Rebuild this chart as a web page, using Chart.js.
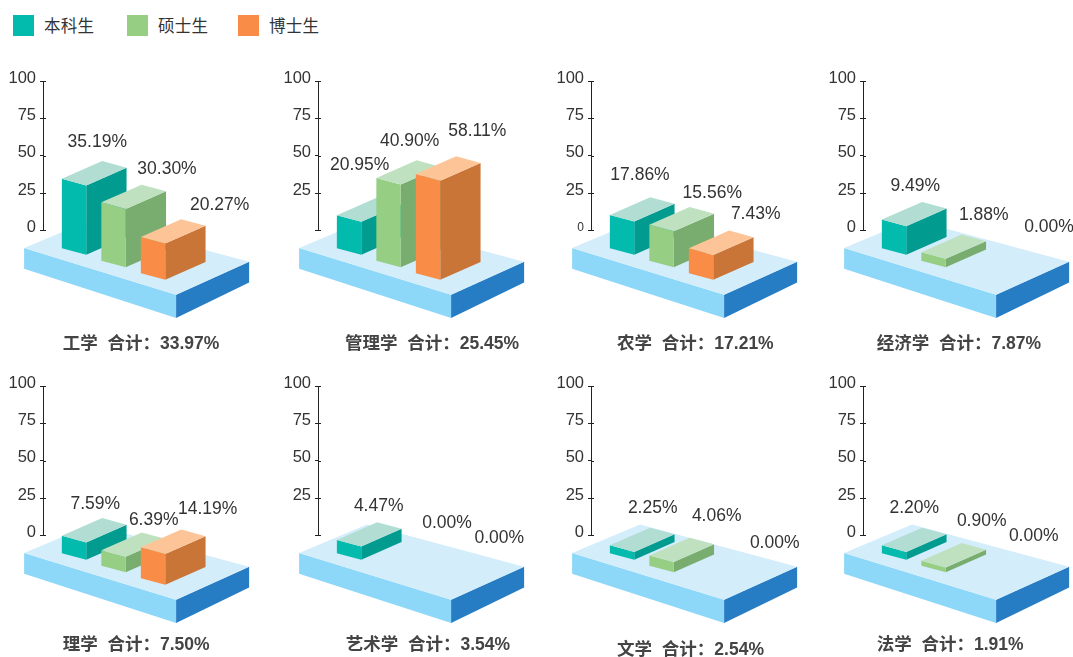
<!DOCTYPE html>
<html lang="zh">
<head>
<meta charset="utf-8">
<title>各学科在校生占比</title>
<script src="https://cdn.jsdelivr.net/npm/chart.js@4"></script>
<style>
  html, body { margin: 0; width: 1073px; height: 657px; overflow: hidden; background: #fff; }
  canvas { position: absolute; }
  .key { position: absolute; top: 15px; height: 21px; line-height: 21px; color: #333;
         font: 16.5px/21px "Noto Sans CJK SC", sans-serif; white-space: nowrap; }
  .key i { position: absolute; left: 0; top: 0; width: 21px; height: 21px; }
  .key span { margin-left: 31px; letter-spacing: 0.3px; }
</style>
</head>
<body>
<script>
// Data
const categories = ['工学', '管理学', '农学', '经济学', '理学', '艺术学', '文学', '法学'];
const totals = ['33.97', '25.45', '17.21', '7.87', '7.50', '3.54', '2.54', '1.91'];
const seriesNames = ['本科生', '硕士生', '博士生'];
const tickValues = [0, 25, 50, 75, 100];

// printed percentages
const bachelorShare = ['35.19', '20.95', '17.86', '9.49', '7.59', '4.47', '2.25', '2.20'];
const masterShare = ['30.30', '40.90', '15.56', '1.88', '6.39', '0.00', '4.06', '0.90'];
const doctorShare = ['20.27', '58.11', '7.43', '0.00', '14.19', '0.00', '0.00', '0.00'];

// box heights as measured against the 0-100 axis (the picture does not draw them to the printed %)
const bachelorHeight = [46.8, 22.4, 22.6, 19.5, 12, 9.2, 5.6, 5.6];
const masterHeight = [39.4, 55.7, 24.4, 6, 10.7, 0, 7.2, 3.6];
const doctorHeight = [24.6, 66.7, 17, 0, 21, 0, 0, 0];

// Colours
const frontColors = ['#02BBAC', '#96CE84', '#F98D48'];
const sideColors = ['#029B90', '#79AD6F', '#C97538'];
const topColors = ['#B1DDD3', '#BFE1BF', '#FDC597'];
const floorTop = '#D4EDFB';
const floorLeft = '#8DD7F8';
const floorRight = '#277DC4';
const inkColor = '#333333';

// Layout, all relative to the axis foot of a panel
const axisLefts = [43, 318, 591, 863];
const rowTops = [61, 366];
const legendLefts = [13, 127, 238];
const BOX = { width: 24.4, skew: 6.6, depthX: 40.3, depthY: 17.7, shiftX: 11.3, drop: 15.1, slope: 0.316 };
const FLOOR = { left: [-18.9, 17.7], front: [133.1, 64.3], right: [206.1, 31.3], back: [49.1, -11], thick: 20.7, frontThick: 23.3 };
const noZeroLabel = [1, 5];
const smallZeroLabel = [2];
const titleSpots = [[19.7, 114], [27, 113.5], [26.1, 113.5], [13.7, 113.5], [19.7, 110], [27.7, 110], [26.1, 115], [13.7, 110]];
const labelSpots = [
  [[54.3, -88], [124, -61], [176.6, -25.7]],
  [[41.7, -65], [91.7, -89], [159.3, -99]],
  [[49, -55], [121.3, -37.4], [164.7, -16]],
  [[52.3, -44], [120.7, -15.7], [186, -3]],
  [[52.3, -31], [110.7, -15.4], [164.7, -26.7]],
  [[60.7, -29.7], [129, -12.4], [181.3, 3]],
  [[61.7, -27], [125.7, -19.4], [183.7, 8]],
  [[51.3, -27], [118.7, -14], [170.7, 0.6]],
];

function fillPoly(ctx, color, points) {
  ctx.fillStyle = color;
  ctx.beginPath();
  points.forEach((p, i) => (i ? ctx.lineTo(p[0], p[1]) : ctx.moveTo(p[0], p[1])));
  ctx.closePath();
  ctx.fill();
}

// A bar element that draws itself as a box standing on the floor
class Box3DElement extends Chart.BarElement {
  draw(ctx) {
    const height = this.base - this.y;
    if (height <= 0) return;
    const shade = frontColors.indexOf(this.options.backgroundColor);
    const originX = this.$originX;
    const cx = this.x + BOX.shiftX;
    const right = cx + this.width / 2;
    const left = cx - this.width / 2;
    const foot = this.base + BOX.drop + BOX.slope * (cx - originX);
    const head = foot - height;
    const dx = BOX.depthX, dy = BOX.depthY, sk = BOX.skew;
    ctx.save();
    fillPoly(ctx, sideColors[shade], [[right, head], [right + dx, head - dy], [right + dx, foot - dy], [right, foot]]);
    fillPoly(ctx, this.options.backgroundColor, [[left, head - sk], [right, head], [right, foot], [left, foot - sk]]);
    fillPoly(ctx, topColors[shade], [[left, head - sk], [left + dx, head - sk - dy], [right + dx, head - dy], [right, head]]);
    ctx.restore();
  }
}
Box3DElement.id = 'box3d';
Box3DElement.defaults = Chart.BarElement.defaults;

class Bar3DController extends Chart.BarController {
  update(mode) {
    super.update(mode);
    const originX = this.chart.chartArea.left;
    this.getMeta().data.forEach((el) => { el.$originX = originX; });
  }
}
Bar3DController.id = 'bar3d';
Bar3DController.defaults = { dataElementType: 'box3d' };
Chart.register(Box3DElement, Bar3DController);

// Floor slab under the boxes
const floorPlugin = {
  id: 'floorSlab',
  beforeDatasetsDraw(chart) {
    const { ctx, chartArea, scales } = chart;
    const x0 = chartArea.left, y0 = scales.y.getPixelForValue(0);
    const at = (p, down = 0) => [x0 + p[0], y0 + p[1] + down];
    const f = FLOOR;
    ctx.save();
    fillPoly(ctx, floorLeft, [at(f.left), at(f.front), at(f.front, f.frontThick), at(f.left, f.thick)]);
    fillPoly(ctx, floorRight, [at(f.front), at(f.right), at(f.right, f.thick), at(f.front, f.frontThick)]);
    fillPoly(ctx, floorTop, [at(f.left), at(f.back), at(f.right), at(f.front)]);
    ctx.restore();
  },
};

// Percent labels, panel caption and the right half of the tick marks
const textPlugin = {
  id: 'panelText',
  afterDraw(chart, args, opts) {
    const { ctx, chartArea, scales } = chart;
    const x0 = chartArea.left, y0 = scales.y.getPixelForValue(0);
    ctx.save();
    ctx.strokeStyle = '#222';
    ctx.lineWidth = 1;
    scales.y.ticks.forEach((t, i) => {
      const y = Math.round(scales.y.getPixelForTick(i)) + 0.5;
      ctx.beginPath();
      ctx.moveTo(x0, y);
      ctx.lineTo(x0 + 3, y);
      ctx.stroke();
    });
    ctx.fillStyle = inkColor;
    ctx.font = '17.5px "Liberation Sans"';
    ctx.textAlign = 'center';
    ctx.textBaseline = 'middle';
    opts.shares.forEach((s, i) => {
      const spot = opts.spots[i];
      ctx.fillText(s + '%', x0 + spot[0], y0 + spot[1]);
    });
    ctx.fillStyle = '#444';
    ctx.font = 'bold 17.5px "Liberation Sans", "Noto Sans CJK SC"';
    ctx.textAlign = 'left';
    ctx.fillText(opts.caption, x0 + opts.captionAt[0], y0 + opts.captionAt[1]);
    ctx.restore();
  },
};

function renderPanel(index) {
  const canvas = document.createElement('canvas');
  canvas.width = 270;
  canvas.height = 300;
  canvas.style.left = (axisLefts[index % 4] - 43) + 'px';
  canvas.style.top = rowTops[index < 4 ? 0 : 1] + 'px';
  document.body.appendChild(canvas);

  new Chart(canvas, {
    type: 'bar3d',
    data: {
      labels: seriesNames,
      datasets: [{
        data: [bachelorHeight[index], masterHeight[index], doctorHeight[index]],
        backgroundColor: frontColors,
        barThickness: BOX.width,
        clip: false,
      }],
    },
    options: {
      responsive: false,
      animation: false,
      layout: { padding: { top: 20, bottom: 130.6, right: 108.5 } },
      plugins: {
        legend: { display: false },
        tooltip: { enabled: false },
        panelText: {
          shares: [bachelorShare[index], masterShare[index], doctorShare[index]],
          spots: labelSpots[index],
          caption: categories[index] + '  合计：' + totals[index] + '%',
          captionAt: titleSpots[index],
        },
      },
      scales: {
        x: { display: false },
        y: {
          min: tickValues[0],
          max: tickValues[tickValues.length - 1],
          afterBuildTicks: (scale) => { scale.ticks = tickValues.map((value) => ({ value })); },
          afterFit: (scale) => { scale.width = 43; },
          border: { color: '#222', width: 1 },
          grid: { drawOnChartArea: false, color: '#222', tickLength: 3 },
          ticks: {
            color: inkColor,
            padding: 4,
            labelOffset: -3,
            font: (ctx) => ({
              family: '"Liberation Sans"',
              size: ctx.tick && ctx.tick.value === 0 && smallZeroLabel.includes(index) ? 12 : 16.5,
            }),
            callback: (value) => (value === 0 && noZeroLabel.includes(index) ? '' : String(value)),
          },
        },
      },
    },
    plugins: [floorPlugin, textPlugin],
  });
}

seriesNames.forEach((name, i) => {
  const key = document.createElement('div');
  key.className = 'key';
  key.style.left = legendLefts[i] + 'px';
  key.innerHTML = '<i style="background:' + frontColors[i] + '"></i><span>' + name + '</span>';
  document.body.appendChild(key);
});

categories.forEach((c, i) => renderPanel(i));
</script>
</body>
</html>
